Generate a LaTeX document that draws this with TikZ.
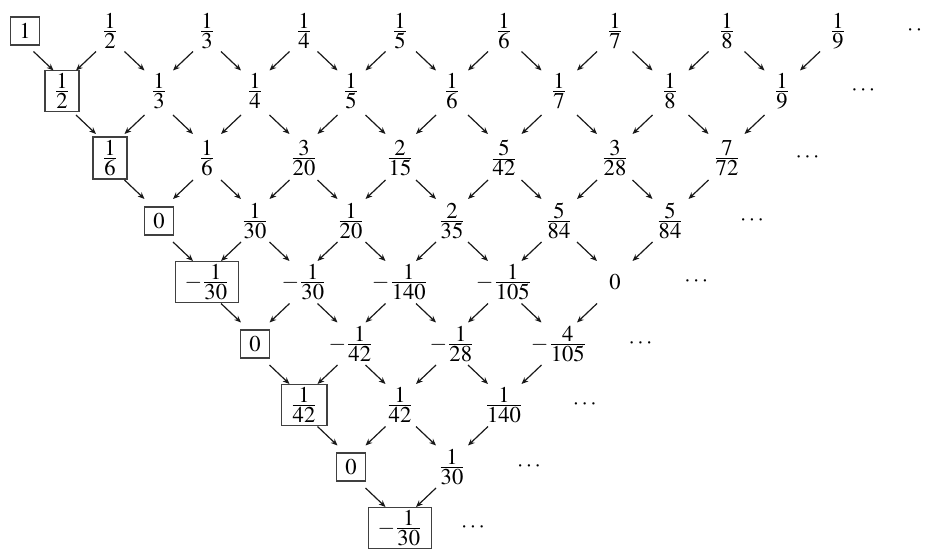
\documentclass[tikz,border=0pt]{standalone}
\usepackage{mathptmx}
\usetikzlibrary{arrows.meta, calc}

\newcommand{\fr}[2]{\frac{\textstyle #1}{\textstyle #2}}
\def\colx{{25,62,110,159,207,255,304,351,400,452,504,559,615,670,727,782,838}}

% one row: number, y, boxed first entry, the other entries
\newcommand{\akrow}[4]{%
  \node[boxed] (n#1-0) at ({\colx[#1]},#2) {#3};
  \foreach \v [count=\j] in {#4} {
    \pgfmathtruncatemacro\c{2*\j+#1}
    \node[cell] (n#1-\j) at ({\colx[\c]},#2) {\v};
  }
  \pgfmathsetmacro\xd{919-55.7*#1}
  \node[cell] (d#1) at (\xd,#2) {\cdots};
}

\begin{document}
\begin{tikzpicture}[x=0.5pt, y=-0.5pt,
  cell/.style={inner xsep=4.5pt, inner ysep=1.5pt, minimum height=14pt,
    font=\fontsize{11.3}{13}\selectfont,
    execute at begin node=$, execute at end node=$},
  boxed/.style={cell, draw=black!75, line width=0.8pt},
  arr/.style={-{Stealth[length=3.4pt, width=2.8pt]}, line width=0.6pt, black!90}]
\useasboundingbox (0,0) rectangle (925,549);

\akrow{0}{31}{1}{\fr{1}{2},\fr{1}{3},\fr{1}{4},\fr{1}{5},\fr{1}{6},\fr{1}{7},\fr{1}{8},\fr{1}{9}}
\akrow{1}{91}{\fr{1}{2}}{\fr{1}{3},\fr{1}{4},\fr{1}{5},\fr{1}{6},\fr{1}{7},\fr{1}{8},\fr{1}{9}}
\akrow{2}{158}{\fr{1}{6}}{\fr{1}{6},\fr{3}{20},\fr{2}{15},\fr{5}{42},\fr{3}{28},\fr{7}{72}}
\akrow{3}{221}{0}{\fr{1}{30},\fr{1}{20},\fr{2}{35},\fr{5}{84},\fr{5}{84}}
\akrow{4}{282}{-\fr{1}{30}}{-\fr{1}{30},-\fr{1}{140},-\fr{1}{105},0}
\akrow{5}{344}{0}{-\fr{1}{42},-\fr{1}{28},-\fr{4}{105}}
\akrow{6}{405}{\fr{1}{42}}{\fr{1}{42},\fr{1}{140}}
\akrow{7}{467}{0}{\fr{1}{30}}
\node[boxed] (n8-0) at ({\colx[8]},528) {-\fr{1}{30}};
\node[cell] (d8) at (473,528) {\cdots};

\foreach \r in {0,...,7} {
  \pgfmathtruncatemacro\s{\r+1}
  \pgfmathtruncatemacro\m{7-\r}
  \foreach \j in {0,...,\m} {
    \pgfmathtruncatemacro\k{\j+1}
    \draw[arr] ($(n\r-\j)!.5!(n\s-\j)+(-10,-9.5)$) -- ++(20,19);
    \draw[arr] ($(n\r-\k)!.5!(n\s-\j)+(10,-9.5)$) -- ++(-20,19);
  }
}
\end{tikzpicture}
\end{document}
